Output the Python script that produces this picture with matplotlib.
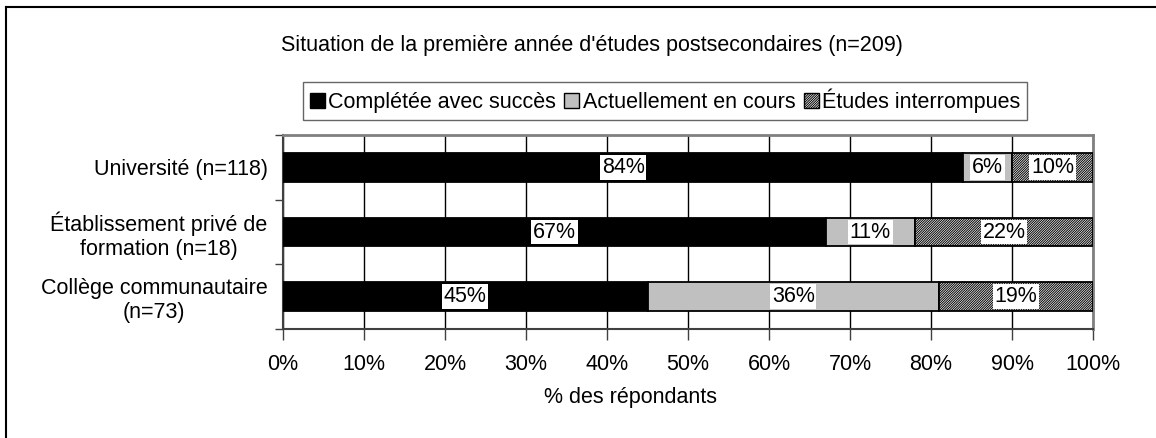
import matplotlib
matplotlib.use('Agg')
import matplotlib.pyplot as plt
from matplotlib.lines import Line2D
from matplotlib.patches import Patch
from matplotlib.ticker import PercentFormatter, FixedLocator
import numpy as np

# ─── Data ────────────────────────────────────────────────────────────────────
categories = ["Université (n=118)",
              "Établissement privé de\nformation (n=18)",
              "Collège communautaire\n(n=73)"]
series_names = ["Complétée avec succès", "Actuellement en cours", "Études interrompues"]
completed = [84, 67, 45]
in_progress = [6, 11, 36]
interrupted = [10, 22, 19]
title = "Situation de la première année d'études postsecondaires (n=209)"
xlabel = "% des répondants"

# ─── Style ───────────────────────────────────────────────────────────────────
FS = 15.5
plt.rcParams.update({
    'font.family': ['Liberation Sans', 'DejaVu Sans'],
    'font.size': FS,
    'hatch.linewidth': 0.7,
    'hatch.color': 'black',
})

styles = [
    dict(color='black', hatch=None),
    dict(color='#C0C0C0', hatch=None),
    dict(color='white', hatch='/' * 14),
]

fig = plt.figure(figsize=(11.56, 4.38), dpi=100)
ax = fig.add_axes([283 / 1156, 1 - 329 / 438, 810 / 1156, 194 / 438])

y = np.arange(len(categories))
left = np.zeros(len(categories))
for vals, st, name in zip([completed, in_progress, interrupted], styles, series_names):
    vals = np.array(vals, dtype=float)
    ax.barh(y, vals, left=left, height=0.44, color=st['color'],
            edgecolor='black', hatch=st['hatch'], linewidth=1.3,
            label=name, zorder=3)
    for yi, l, v in zip(y, left, vals):
        ax.text(l + v / 2, yi, f"{v:.0f}%", ha='center', va='center', fontsize=FS,
                zorder=5, bbox=dict(boxstyle='square,pad=0.08', fc='white', ec='none'))
    left += vals

ax.set_xlim(0, 100)
ax.set_ylim(2.5, -0.5)
ax.xaxis.set_major_locator(FixedLocator(np.arange(0, 101, 10)))
ax.xaxis.set_major_formatter(PercentFormatter(100, decimals=0))
ax.grid(axis='x', color='black', linewidth=1.0, zorder=0)
ax.set_axisbelow(True)

ax.set_yticks([-0.5, 0.5, 1.5, 2.5])
ax.set_yticklabels([])
ax.set_yticks(y, minor=True)
ax.set_yticklabels(categories, minor=True, ha='right', multialignment='center')
ax.tick_params(axis='y', which='minor', length=0, pad=11)
ax.tick_params(axis='y', which='major', length=6, width=1, color='#404040')
ax.tick_params(axis='x', length=8, width=1, color='#404040', pad=10)

for side in ['top', 'right']:
    ax.spines[side].set_color('#808080')
    ax.spines[side].set_linewidth(2)
for side in ['left', 'bottom']:
    ax.spines[side].set_color('#404040')
    ax.spines[side].set_linewidth(1.5)

# ─── Titles, legend, outer frame ─────────────────────────────────────────────
fig.text(592 / 1156, 1 - 45 / 438, title, ha='center', va='center', fontsize=FS)
fig.text(631 / 1156, 1 - 397 / 438, xlabel, ha='center', va='center', fontsize=FS)

handles = [Patch(facecolor=st['color'], edgecolor='black', hatch=st['hatch'], linewidth=1)
           for st in styles]
leg = fig.legend(handles, series_names, loc='center', bbox_to_anchor=(665 / 1156, 1 - 101 / 438),
                 ncol=3, frameon=True, fancybox=False, edgecolor='#404040',
                 handlelength=0.7, handleheight=0.7, handletextpad=0.15,
                 columnspacing=0.4, borderpad=0.3, borderaxespad=0, fontsize=FS)
leg.get_frame().set_linewidth(1)

fig.add_artist(Line2D([6 / 1156, 6 / 1156], [0, 1 - 7 / 438], color='black', linewidth=1.5))
fig.add_artist(Line2D([6 / 1156, 1], [1 - 7 / 438, 1 - 7 / 438], color='black', linewidth=1.5))

fig.savefig('out.png', dpi=100)
